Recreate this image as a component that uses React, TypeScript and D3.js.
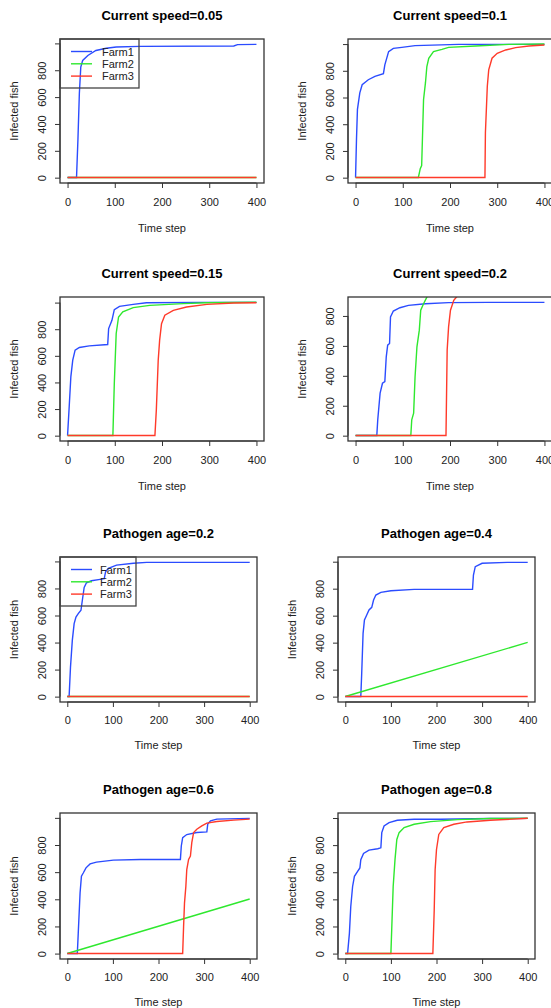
import React, { useEffect, useRef } from 'react';
import * as d3 from 'd3';

type Pt = [number, number];

const FARMS = ['Farm1', 'Farm2', 'Farm3'];
const FARM_COLORS = ['#2b4cff', '#2ee82e', '#ff3a2a'];
const TITLES = [
  'Current speed=0.05', 'Current speed=0.1',
  'Current speed=0.15', 'Current speed=0.2',
  'Pathogen age=0.2', 'Pathogen age=0.4',
  'Pathogen age=0.6', 'Pathogen age=0.8',
];
const X_TICKS = [0, 100, 200, 300, 400];
const Y_TICKS = [0, 200, 400, 600, 800, 1000];
const Y_LABELED = [0, 200, 400, 600, 800];

// flat / straight series
const zeroLine: Pt[] = [[0, 0], [400, 0]];
const linearGreen: Pt[] = [[0, 0], [400, 402]];

// Current speed = 0.05
const cs005Farm1: Pt[] = [[0, 0], [19, 0], [22, 286], [25, 629], [28, 824], [32, 873], [43, 910], [60, 947], [82, 964], [103, 973], [153, 978], [352, 981], [360, 991], [400, 993]];

// Current speed = 0.1
const cs01Farm1: Pt[] = [[0, 0], [2, 289], [4, 511], [9, 635], [14, 696], [27, 733], [41, 758], [59, 778], [62, 844], [70, 943], [80, 968], [98, 975], [126, 988], [218, 998], [400, 998]];
const cs01Farm2: Pt[] = [[0, 0], [133, 0], [137, 67], [140, 91], [144, 585], [148, 709], [151, 832], [155, 894], [165, 943], [183, 960], [197, 975], [254, 985], [325, 998], [400, 1000]];
const cs01Farm3: Pt[] = [[0, 0], [274, 0], [275, 338], [279, 684], [282, 807], [289, 894], [300, 931], [318, 956], [339, 973], [367, 985], [400, 993]];

// Current speed = 0.15
const cs015Farm1: Pt[] = [[0, 0], [3.5, 219], [7, 444], [11, 568], [16, 643], [25, 663], [46, 675], [85, 685], [87, 805], [94, 867], [99, 947], [110, 972], [139, 987], [167, 999], [281, 1002], [400, 1002]];
const cs015Farm2: Pt[] = [[0, 0], [96, 0], [99, 394], [103, 768], [108, 892], [117, 930], [139, 962], [174, 979], [245, 992], [295, 999], [400, 1003]];
const cs015Farm3: Pt[] = [[0, 0], [185, 0], [188, 194], [192, 568], [195, 718], [199, 842], [206, 905], [224, 942], [252, 967], [295, 987], [352, 997], [400, 999]];

// Current speed = 0.2
const cs02Farm1: Pt[] = [[0, 0], [45, 0], [47, 106], [52, 284], [57, 350], [62, 361], [65, 527], [68, 605], [72, 616], [74, 793], [80, 833], [94, 855], [112, 871], [148, 882], [197, 889], [282, 891], [400, 891]];
const cs02Farm2: Pt[] = [[0, 0], [117, 0], [119, 106], [123, 151], [126, 394], [130, 594], [135, 705], [138, 838], [144, 882], [151, 926], [160, 960], [200, 990], [400, 1000]];
const cs02Farm3: Pt[] = [[0, 0], [191.5, 0], [194, 572], [197, 727], [201, 838], [208, 904], [215, 931], [240, 970], [300, 990], [400, 998]];

// Pathogen age = 0.2
const pa02Farm1: Pt[] = [[0, 0], [4, 0], [7, 218], [11, 416], [15, 540], [19, 589], [24, 614], [30, 639], [33, 713], [37, 807], [42, 842], [53, 857], [72, 867], [81, 872], [84, 924], [90, 949], [108, 973], [145, 986], [174, 993], [400, 993]];

// Pathogen age = 0.4
const pa04Farm1: Pt[] = [[0, 0], [34, 0], [36, 173], [39, 469], [42, 568], [47, 605], [52, 642], [58, 662], [62, 716], [67, 753], [78, 773], [100, 785], [151, 795], [279, 795], [281, 901], [285, 963], [300, 988], [355, 995], [400, 995]];

// Pathogen age = 0.6
const pa06Farm1: Pt[] = [[0, 0], [22, 0], [24, 149], [28, 446], [31, 570], [35, 594], [41, 632], [50, 661], [64, 674], [101, 689], [160, 693], [248, 693], [250, 793], [253, 854], [262, 877], [284, 892], [306, 897], [308, 954], [314, 978], [328, 991], [400, 996]];
const pa06Farm3: Pt[] = [[0, 0], [253, 0], [255, 198], [257, 372], [260, 495], [262, 619], [266, 694], [270, 718], [273, 817], [277, 892], [284, 916], [295, 941], [306, 961], [328, 973], [365, 983], [400, 991]];

// Pathogen age = 0.8
const pa08Farm1: Pt[] = [[0, 0], [5, 0], [9, 149], [12, 347], [16, 495], [20, 570], [27, 607], [32, 632], [34, 693], [40, 738], [52, 763], [71, 773], [78, 780], [80, 892], [85, 941], [96, 966], [114, 983], [151, 991], [209, 991], [318, 996], [400, 997]];
const pa08Farm2: Pt[] = [[0, 0], [100, 0], [102, 198], [105, 495], [109, 693], [113, 842], [118, 892], [129, 929], [151, 954], [187, 973], [246, 988], [318, 996], [400, 998]];
const pa08Farm3: Pt[] = [[0, 0], [192, 0], [195, 322], [197, 619], [200, 768], [205, 879], [216, 929], [238, 954], [267, 971], [318, 983], [391, 996], [400, 998]];

const PANEL_SERIES: Pt[][][] = [
  [cs005Farm1, zeroLine, zeroLine],
  [cs01Farm1, cs01Farm2, cs01Farm3],
  [cs015Farm1, cs015Farm2, cs015Farm3],
  [cs02Farm1, cs02Farm2, cs02Farm3],
  [pa02Farm1, zeroLine, zeroLine],
  [pa04Farm1, linearGreen, zeroLine],
  [pa06Farm1, linearGreen, pa06Farm3],
  [pa08Farm1, pa08Farm2, pa08Farm3],
];
const LEGEND_PANELS = [0, 4];

// layout (pixels)
const ROW_TOP = [39, 297, 557, 813];
const ROW_H = [144, 144, 145, 146];
const COL_LEFT = [[60, 348], [60, 348], [60, 338], [60, 338]];
const BOX_W = [204, 204, 197, 197];
const FONT = '"Liberation Sans", Arial, sans-serif';

const App: React.FC = () => {
  const svgRef = useRef<SVGSVGElement>(null);

  useEffect(() => {
    if (!svgRef.current) return;
    const svg = d3.select(svgRef.current);
    svg.selectAll('*').remove();

    PANEL_SERIES.forEach((series, i) => {
      const row = Math.floor(i / 2);
      const col = i % 2;
      const left = COL_LEFT[row][col];
      const top = ROW_TOP[row];
      const w = BOX_W[row];
      const h = ROW_H[row];
      const bottom = top + h;
      const top2 = row >= 2;

      const ymax = d3.max(series[0], d => d[1]) as number;
      const x = d3.scaleLinear().domain([-16, 416]).range([left, left + w]);
      const y = d3.scaleLinear().domain([-0.04 * ymax, 1.04 * ymax]).range([bottom, top]);
      // zero level sits on a pixel centre so overlapping lines cover each other
      const y0 = Math.floor(y(0)) + 0.5;
      const py = (v: number) => (v === 0 ? y0 : y(v));

      const g = svg.append('g');
      const clipId = `clip${i}`;
      g.append('clipPath').attr('id', clipId)
        .append('rect').attr('x', left).attr('y', top).attr('width', w).attr('height', h);

      const line = d3.line<Pt>().x(d => x(d[0])).y(d => py(d[1]));
      series.forEach((s, k) => {
        g.append('path')
          .attr('d', line(s))
          .attr('fill', 'none')
          .attr('stroke', FARM_COLORS[k])
          .attr('stroke-width', 1.4)
          .attr('clip-path', `url(#${clipId})`);
      });

      // box
      g.append('rect').attr('x', left).attr('y', top).attr('width', w).attr('height', h)
        .attr('fill', 'none').attr('stroke', '#333').attr('stroke-width', 1.3);

      // x axis
      const xa = g.append('g').attr('transform', `translate(0,${bottom})`)
        .call(d3.axisBottom(x).tickValues(X_TICKS).tickSize(5).tickSizeOuter(0));
      xa.select('.domain').attr('d', `M${x(0)},0H${x(400)}`).attr('stroke', '#333');
      xa.selectAll('.tick line').attr('stroke', '#333');
      xa.selectAll('.tick text')
        .attr('y', top2 ? 18 : 19).attr('dy', '0.35em')
        .attr('font-size', 11).attr('font-family', FONT).attr('fill', '#222');

      // y axis
      const yt = Y_TICKS.filter(v => v <= 1.04 * ymax);
      const ya = g.append('g').attr('transform', `translate(${left},0)`)
        .call(d3.axisLeft(y).tickValues(yt).tickSize(5).tickSizeOuter(0)
          .tickFormat(v => (Y_LABELED.includes(v as number) ? String(v) : '')));
      ya.select('.domain').attr('d', `M0,${y(0)}V${y(yt[yt.length - 1])}`).attr('stroke', '#333');
      ya.selectAll('.tick line').attr('stroke', '#333');
      ya.selectAll('.tick text')
        .attr('x', 0).attr('dy', null)
        .attr('transform', 'translate(-18,0) rotate(-90)')
        .attr('text-anchor', 'middle').attr('dominant-baseline', 'central')
        .attr('font-size', 11).attr('font-family', FONT).attr('fill', '#222');
      g.selectAll('.tick').attr('font-family', FONT);

      // titles
      g.append('text').attr('x', left + w / 2).attr('y', top - 24)
        .attr('text-anchor', 'middle').attr('dominant-baseline', 'central')
        .attr('font-family', FONT).attr('font-size', 13).attr('font-weight', 'bold').attr('fill', '#000')
        .text(TITLES[i]);
      g.append('text').attr('x', left + w / 2).attr('y', bottom + (top2 ? 43 : 45))
        .attr('text-anchor', 'middle').attr('dominant-baseline', 'central')
        .attr('font-family', FONT).attr('font-size', 11).attr('fill', '#222')
        .text('Time step');
      g.append('text')
        .attr('transform', `translate(${left - 46},${(top + bottom) / 2}) rotate(-90)`)
        .attr('text-anchor', 'middle').attr('dominant-baseline', 'central')
        .attr('font-family', FONT).attr('font-size', 11).attr('fill', '#222')
        .text('Infected fish');

      // legend
      if (LEGEND_PANELS.includes(i)) {
        const lw = top2 ? 76 : 79;
        const lg = g.append('g').attr('transform', `translate(${left},${top})`);
        lg.append('rect').attr('width', lw).attr('height', 49)
          .attr('fill', 'none').attr('stroke', '#444').attr('stroke-width', 1.3);
        FARMS.forEach((name, k) => {
          const ly = 12.5 + k * 12.3;
          lg.append('line').attr('x1', 11).attr('x2', 32).attr('y1', ly).attr('y2', ly)
            .attr('stroke', FARM_COLORS[k]).attr('stroke-width', 1.4);
          lg.append('text').attr('x', top2 ? 40 : 42).attr('y', ly)
            .attr('dominant-baseline', 'central')
            .attr('font-family', FONT).attr('font-size', 11).attr('fill', '#222')
            .text(name);
        });
      }
    });
  }, []);

  return (
    <svg
      ref={svgRef}
      width={551}
      height={1008}
      style={{ position: 'absolute', left: 0, top: 0, background: '#fff' }}
    />
  );
};

export default App;
